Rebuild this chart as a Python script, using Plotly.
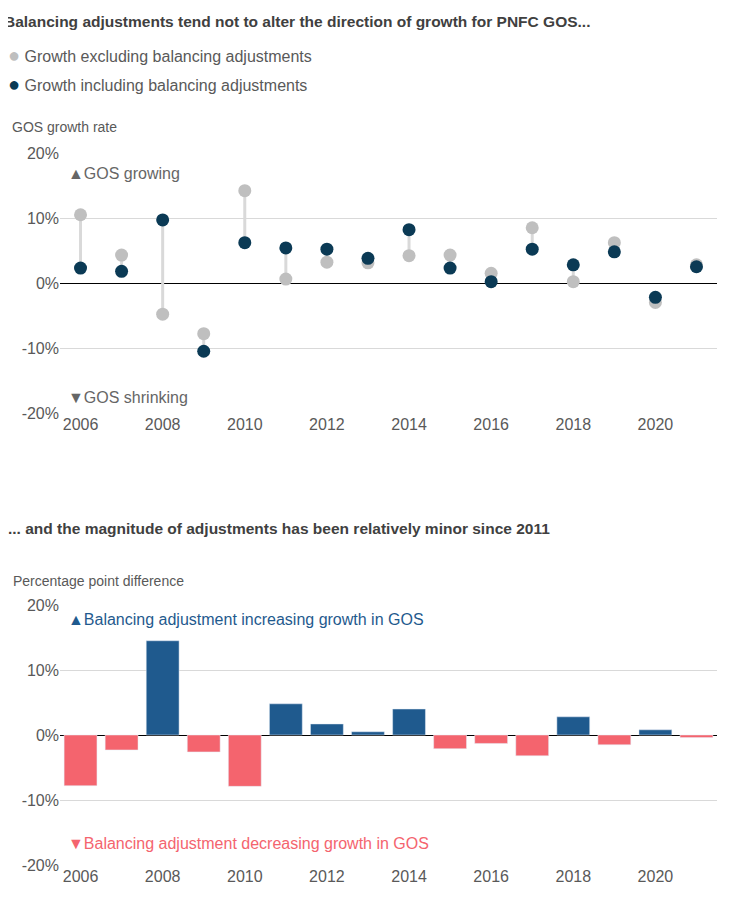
import plotly.graph_objects as go
from plotly.subplots import make_subplots

years = list(range(2006, 2022))
growth_excl = [10.5, 4.3, -4.8, -7.8, 14.2, 0.6, 3.2, 3.1, 4.2, 4.3, 1.5, 8.5, 0.2, 6.2, -3.0, 2.8]
growth_incl = [2.3, 1.8, 9.7, -10.5, 6.2, 5.4, 5.2, 3.8, 8.2, 2.3, 0.2, 5.2, 2.8, 4.8, -2.2, 2.5]
pp_diff = [-7.8, -2.3, 14.5, -2.6, -7.9, 4.8, 1.7, 0.5, 4.0, -2.1, -1.3, -3.2, 2.8, -1.5, 0.8, -0.4]
tick_vals = [-20, -10, 0, 10, 20]
tick_text = ["-20%", "-10%", "0%", "10%", "20%"]

DARK = "#0b3a55"
GREY = "#bfbfbf"
BLUE = "#1f5a8e"
RED = "#f4646e"
TXT = "#595959"
H = 910

fig = make_subplots(rows=2, cols=1)

# connector lines between the two growth rates
cx, cy = [], []
for yr, a, b in zip(years, growth_excl, growth_incl):
    cx += [yr, yr, None]
    cy += [a, b, None]
fig.add_trace(go.Scatter(x=cx, y=cy, mode="lines", line=dict(color="#d9d9d9", width=3),
                         showlegend=False, hoverinfo="skip"), row=1, col=1)
fig.add_trace(go.Scatter(x=years, y=growth_excl, mode="markers", marker=dict(color=GREY, size=13),
                         name="Growth excluding balancing adjustments", showlegend=False), row=1, col=1)
fig.add_trace(go.Scatter(x=years, y=growth_incl, mode="markers", marker=dict(color=DARK, size=13),
                         name="Growth including balancing adjustments", showlegend=False), row=1, col=1)

fig.add_trace(go.Bar(x=years, y=pp_diff, width=0.8,
                     marker_color=[BLUE if v > 0 else RED for v in pp_diff],
                     showlegend=False), row=2, col=1)

def py(px):
    return 1 - px / H

fig.update_xaxes(range=[2005.5, 2021.5], tickvals=list(range(2006, 2022, 2)), showgrid=False,
                 ticks="", tickfont=dict(size=16, color=TXT), zeroline=False)
fig.update_yaxes(range=[-20, 20], tickvals=tick_vals, ticktext=tick_text, gridcolor="#d9d9d9",
                 tickfont=dict(size=16, color=TXT), zeroline=True, zerolinecolor="#000000",
                 zerolinewidth=1, ticklabelstandoff=0)
fig.update_yaxes(domain=[py(405), py(145)], row=1, col=1)
fig.update_yaxes(domain=[py(857), py(597)], row=2, col=1)

ann = []
def txt(x, y, s, size=16, color=TXT, bold=False):
    ann.append(dict(x=x, y=py(y), xref="paper", yref="paper", text=("<b>%s</b>" % s) if bold else s,
                    showarrow=False, xanchor="left", yanchor="middle",
                    font=dict(size=size, color=color)))

# paper x in fraction of plot area: convert pixel x
def pxx(px):
    return (px - 52) / 657

txt(pxx(-6), 14, "Balancing adjustments tend not to alter the direction of growth for PNFC GOS...", 15.5, "#404040", True)
txt(pxx(-2), 47, "<span style='color:%s;font-size:20px'>●</span> Growth excluding balancing adjustments" % GREY, 16)
txt(pxx(-2), 76, "<span style='color:%s;font-size:20px'>●</span> Growth including balancing adjustments" % DARK, 16)
txt(pxx(2), 119, "GOS growth rate", 14)
txt(pxx(58), 165, "▲GOS growing", 16, "#666666")
txt(pxx(58), 389, "▼GOS shrinking", 16, "#666666")
txt(pxx(-2), 520, "... and the magnitude of adjustments has been relatively minor since 2011", 15.5, "#404040", True)
txt(pxx(3), 573, "Percentage point difference", 14)
txt(pxx(58), 611, "▲Balancing adjustment increasing growth in GOS", 16, BLUE)
txt(pxx(58), 835, "▼Balancing adjustment decreasing growth in GOS", 16, RED)

fig.update_layout(width=729, height=H, margin=dict(l=52, r=20, t=0, b=0, autoexpand=False),
                  plot_bgcolor="white", paper_bgcolor="white",
                  font=dict(family="Liberation Sans, Arial", color=TXT),
                  annotations=ann, bargap=0.2)

fig.write_html("out.html")
